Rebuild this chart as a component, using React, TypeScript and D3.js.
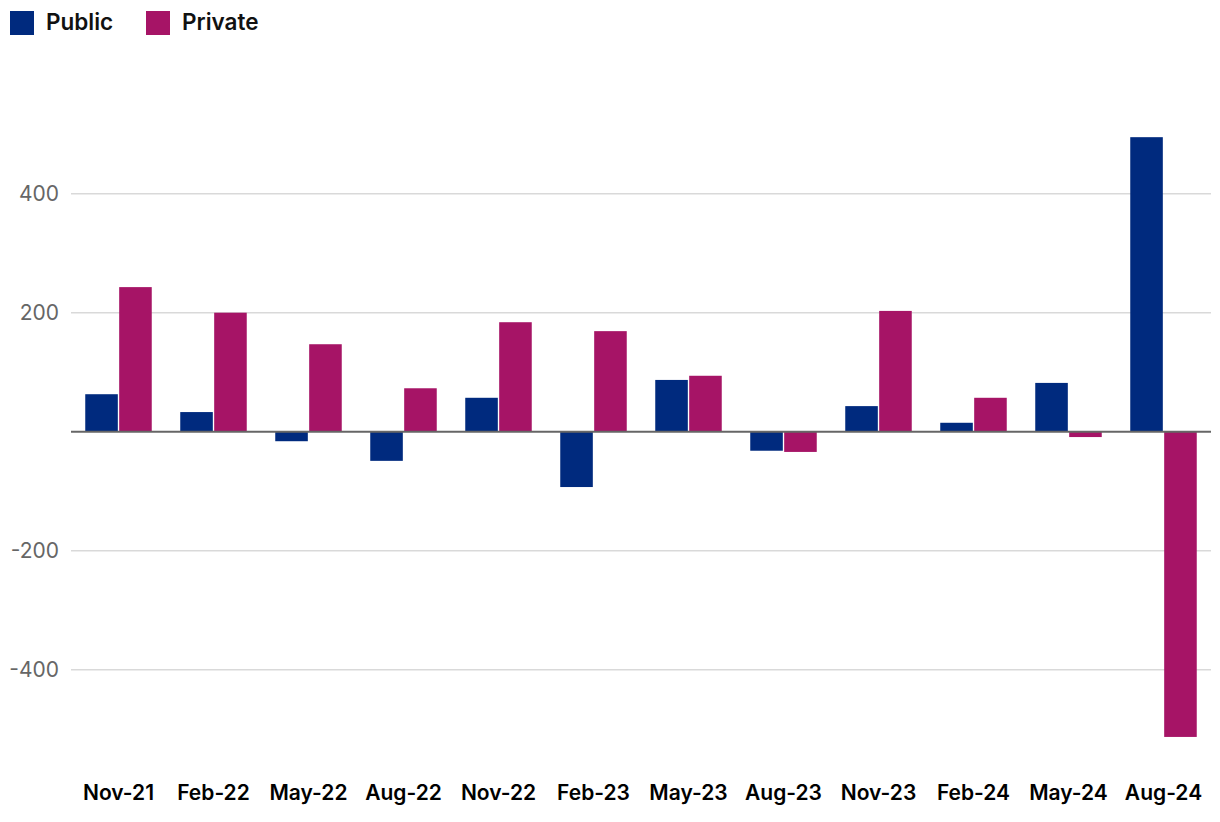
import React, { useEffect } from "react";
import * as d3 from "d3";

const categories = ["Nov-21", "Feb-22", "May-22", "Aug-22", "Nov-22", "Feb-23", "May-23", "Aug-23", "Nov-23", "Feb-24", "May-24", "Aug-24"];
const publicValues = [63, 33, -16, -49, 57, -93, 87, -32, 43, 15, 82, 495];
const privateValues = [243, 200, 147, 73, 184, 169, 94, -34, 203, 57, -9, -513];
const yTicks = [-400, -200, 200, 400];
const seriesNames = ["Public", "Private"];
const seriesColors = ["#002A7E", "#A61466"];

const W = 1220;
const H = 822;
const FONT = "Inter, Roboto, 'Noto Sans', sans-serif";

export default function App() {
  useEffect(() => {
    document.body.style.margin = "0";
  }, []);

  const x = d3.scaleBand<string>().domain(categories).range([71, 1211]).paddingInner(0.3).paddingOuter(0.15);
  const x1 = d3.scaleBand<string>().domain(seriesNames).range([0, x.bandwidth()]).paddingInner(0.04);
  const y = d3.scaleLinear().domain([-600, 600]).range([431.7 + 357, 431.7 - 357]);

  const data = [publicValues, privateValues];

  return (
    <svg width={W} height={H} style={{ display: "block", background: "#fff" }} fontFamily={FONT}>
      {/* legend */}
      {seriesNames.map((s, i) => {
        const lx = i === 0 ? 10 : 146;
        return (
          <g key={s}>
            <rect x={lx} y={11} width={24} height={24} fill={seriesColors[i]} />
            <text x={lx + 36} y={30} fontSize={22.5} fontWeight={600} fill="#111">{s}</text>
          </g>
        );
      })}
      {/* gridlines */}
      {yTicks.map((t) => (
        <g key={t}>
          <line x1={71} x2={1211} y1={y(t)} y2={y(t)} stroke="#d9d9d9" strokeWidth={1.5} />
          <text x={59} y={y(t)} dy="0.35em" textAnchor="end" fontSize={21} fill="#666">{t}</text>
        </g>
      ))}
      {/* bars */}
      {categories.map((c, ci) => (
        <g key={c} transform={`translate(${x(c)},0)`}>
          {data.map((vals, si) => {
            const v = vals[ci];
            return (
              <rect
                key={si}
                x={x1(seriesNames[si])}
                width={x1.bandwidth()}
                y={Math.min(y(v), y(0))}
                height={Math.abs(y(v) - y(0))}
                fill={seriesColors[si]}
              />
            );
          })}
        </g>
      ))}
      {/* zero line */}
      <line x1={71} x2={1211} y1={y(0)} y2={y(0)} stroke="#666" strokeWidth={2} />
      {/* x labels */}
      {categories.map((c) => (
        <text key={c} x={(x(c) as number) + x.bandwidth() / 2} y={800} textAnchor="middle" fontSize={21} fontWeight={600} fill="#000">{c}</text>
      ))}
    </svg>
  );
}
